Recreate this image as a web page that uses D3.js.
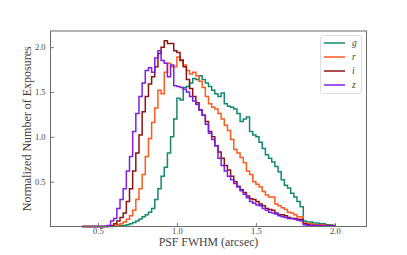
<!DOCTYPE html>
<html><head><meta charset="utf-8">
<script src="https://cdn.jsdelivr.net/npm/d3@7"></script>
<style>body{margin:0;background:#fff;} svg{display:block;}</style>
</head><body>
<svg id="chart" width="407" height="255"></svg>
<script>
// Histogram bins: left edges 0.40 .. 1.98, width 0.02 (80 bins)
const binStart = 0.40;
const binWidth = 0.02;
const binCount = 80;

const gValues = [
  0,0,0,0,0,0,0,0,0,0,
  0.003,0.005,0.008,0.012,0.02,0.03,0.045,0.06,0.085,0.11,
  0.13,0.16,0.20,0.30,0.42,0.56,0.66,0.82,1.00,1.20,
  1.43,1.41,1.55,1.56,1.60,1.65,1.64,1.68,1.64,1.60,
  1.56,1.52,1.48,1.45,1.49,1.37,1.34,1.33,1.31,1.26,
  1.17,1.20,1.22,1.06,1.02,1.00,0.94,0.87,0.80,0.76,
  0.72,0.67,0.61,0.52,0.46,0.43,0.37,0.33,0.28,0.22,
  0.06,0.05,0.05,0.04,0.04,0.03,0.03,0.02,0.02,0.015
];
const rValues = [
  0,0,0,0,0,0,0,0,0.003,0.006,
  0.01,0.02,0.03,0.05,0.08,0.12,0.18,0.30,0.42,0.58,
  0.78,0.98,1.16,1.32,1.52,1.48,1.72,1.82,1.78,1.78,
  1.89,1.86,1.80,1.74,1.70,1.72,1.68,1.62,1.55,1.45,
  1.37,1.33,1.31,1.26,1.20,1.13,1.07,0.97,0.86,0.82,
  0.77,0.71,0.62,0.58,0.50,0.47,0.44,0.39,0.35,0.33,
  0.33,0.25,0.23,0.21,0.19,0.16,0.15,0.13,0.11,0.11,
  0.04,0.03,0.03,0.02,0.02,0.02,0.015,0.01,0.01,0.01
];
const iValues = [
  0,0,0,0,0,0,0,0,0.005,0.01,
  0.03,0.06,0.10,0.15,0.28,0.42,0.62,0.82,1.02,1.28,
  1.45,1.59,1.67,1.78,1.93,2.00,2.07,2.04,2.04,1.96,
  1.94,1.85,1.78,1.64,1.54,1.45,1.38,1.30,1.24,1.17,
  1.06,1.00,0.90,0.83,0.76,0.68,0.63,0.56,0.50,0.45,
  0.41,0.38,0.34,0.31,0.30,0.28,0.25,0.23,0.20,0.19,
  0.18,0.15,0.13,0.13,0.12,0.10,0.09,0.09,0.08,0.08,
  0.03,0.02,0.015,0.01,0.01,0.01,0.01,0.01,0.005,0.005
];
const zValues = [
  0,0,0,0,0,0,0,0.003,0.01,0.06,
  0.09,0.20,0.30,0.42,0.62,0.78,1.06,1.26,1.45,1.60,
  1.74,1.77,1.72,1.88,1.96,1.85,1.82,1.67,1.80,1.57,
  1.56,1.55,1.53,1.50,1.45,1.40,1.36,1.30,1.24,1.14,
  1.04,0.97,0.90,0.76,0.68,0.62,0.56,0.52,0.48,0.44,
  0.40,0.36,0.32,0.28,0.26,0.24,0.23,0.20,0.18,0.16,
  0.15,0.14,0.12,0.11,0.10,0.09,0.09,0.08,0.07,0.06,
  0.02,0.01,0.01,0.01,0.01,0.005,0.005,0.005,0.005,0.005
];

const seriesNames = ["g","r","i","z"];
const seriesColors = ["#138a6b","#ff5a1e","#8c1414","#7d1fe6"];
const seriesValues = [gValues, rValues, iValues, zValues];

const xTicks = [0.5, 1.0, 1.5, 2.0];
const xTickLabels = ["0.5","1.0","1.5","2.0"];
const yTicks = [0.5, 1.0, 1.5, 2.0];
const yTickLabels = ["0.5","1.0","1.5","2.0"];
const xLabel = "PSF FWHM (arcsec)";
const yLabel = "Normalized Number of Exposures";

const W = 407, H = 255;
const margin = {top: 31, right: 40.5, bottom: 28.5, left: 50.5};
const svg = d3.select("#chart");

const x = d3.scaleLinear().domain([0.2, 2.2]).range([margin.left, W - margin.right]);
const y = d3.scaleLinear().domain([0, 2.18]).range([H - margin.bottom, margin.top]);

const frameColor = "#6a6a6a";
const textColor = "#444";
const serif = "'Liberation Serif', 'Times New Roman', serif";

// histograms
const line = d3.line().x(d => x(d[0])).y(d => y(d[1])).curve(d3.curveStepAfter);
const plot = svg.append("g");
seriesValues.forEach((vals, k) => {
  const pts = [[binStart, 0]];
  vals.forEach((v, i) => pts.push([binStart + i * binWidth, v]));
  const end = binStart + binCount * binWidth;
  pts.push([end, vals[vals.length - 1]]);
  pts.push([end, 0]);
  plot.append("path").datum(pts)
    .attr("d", line)
    .attr("fill", "none")
    .attr("stroke", seriesColors[k])
    .attr("stroke-width", 1.5)
    .attr("stroke-linejoin", "miter");
});

// axes
const xAxis = d3.axisBottom(x).tickValues(xTicks)
  .tickFormat((d, i) => xTickLabels[i]).tickSizeInner(-3.5).tickSizeOuter(0).tickPadding(1.5);
const gx = svg.append("g").attr("transform", `translate(0,${H - margin.bottom})`).call(xAxis);
const yAxis = d3.axisLeft(y).tickValues(yTicks)
  .tickFormat((d, i) => yTickLabels[i]).tickSizeInner(-3.5).tickSizeOuter(0).tickPadding(5);
const gy = svg.append("g").attr("transform", `translate(${margin.left},0)`).call(yAxis);
[gx, gy].forEach(g => {
  g.select(".domain").remove();
  g.selectAll(".tick line").attr("stroke", frameColor).attr("stroke-width", 0.9);
  g.selectAll(".tick text").attr("fill", textColor)
    .style("font-family", serif).style("font-size", "8.5px");
});

// frame
svg.append("rect")
  .attr("x", margin.left).attr("y", margin.top)
  .attr("width", W - margin.left - margin.right)
  .attr("height", H - margin.top - margin.bottom)
  .attr("fill", "none").attr("stroke", frameColor).attr("stroke-width", 1);

// axis labels
svg.append("text")
  .attr("x", (margin.left + W - margin.right) / 2).attr("y", 246)
  .attr("text-anchor", "middle").attr("fill", textColor)
  .style("font-family", serif).style("font-size", "11.8px")
  .text(xLabel);
svg.append("text")
  .attr("transform", `translate(30.5,${(margin.top + H - margin.bottom) / 2}) rotate(-90)`)
  .attr("text-anchor", "middle").attr("fill", textColor)
  .style("font-family", serif).style("font-size", "12px")
  .text(yLabel);

// legend
const lg = svg.append("g");
lg.append("rect")
  .attr("x", 320.5).attr("y", 35.5).attr("width", 41).attr("height", 58)
  .attr("rx", 2.5).attr("fill", "#fff").attr("stroke", "#d6d6d6").attr("stroke-width", 0.8);
seriesNames.forEach((name, k) => {
  const yy = 43 + k * 14;
  lg.append("line").attr("x1", 324).attr("x2", 345).attr("y1", yy).attr("y2", yy)
    .attr("stroke", seriesColors[k]).attr("stroke-width", 1.5);
  lg.append("text").attr("x", 352).attr("y", yy).attr("dy", "0.3em")
    .attr("fill", textColor)
    .style("font-family", serif).style("font-style", "italic").style("font-size", "9.5px")
    .text(name);
});
</script>
</body></html>
